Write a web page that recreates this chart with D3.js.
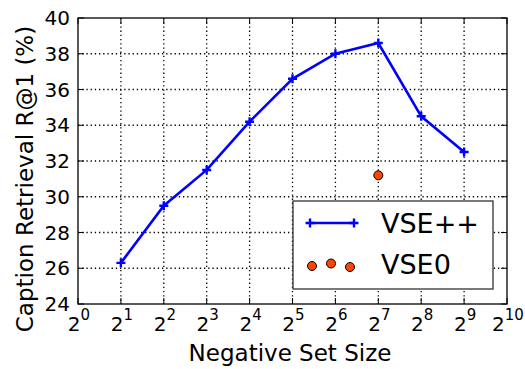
<!DOCTYPE html>
<html>
<head>
<meta charset="utf-8">
<script src="https://cdn.jsdelivr.net/npm/d3@7"></script>
<style>
  body { margin: 0; background: #fff; }
  text { font-family: "DejaVu Sans", sans-serif; fill: #000; }
</style>
</head>
<body>
<svg id="chart" width="525" height="369"></svg>
<script>
// data
var exponents = [1, 2, 3, 4, 5, 6, 7, 8, 9]
var vsePP = [26.3, 29.5, 31.5, 34.2, 36.6, 38.0, 38.6, 34.5, 32.5]
var vse0Exp = [7]
var vse0 = [31.2]
var xTickExp = [0, 1, 2, 3, 4, 5, 6, 7, 8, 9, 10]
var yTicks = [24, 26, 28, 30, 32, 34, 36, 38, 40]

var svg = d3.select("#chart")
var pL = 78, pR = 507, pT = 18, pB = 304

var x = d3.scaleLog().base(2).domain([1, 1024]).range([pL, pR])
var y = d3.scaleLinear().domain([24, 40]).range([pB, pT])

// grid
var grid = svg.append("g")
grid.selectAll(".gx").data(xTickExp.slice(1, -1)).enter().append("line")
  .attr("x1", d => x(Math.pow(2, d))).attr("x2", d => x(Math.pow(2, d)))
  .attr("y1", pT).attr("y2", pB)
grid.selectAll(".gy").data(yTicks.slice(1, -1)).enter().append("line")
  .attr("y1", d => y(d)).attr("y2", d => y(d))
  .attr("x1", pL).attr("x2", pR)
grid.selectAll("line").attr("stroke", "#000").attr("stroke-width", 1.3)
  .attr("stroke-dasharray", "1.3,2.9")

// ticks inside on all four sides
var tk = svg.append("g").attr("stroke", "#000").attr("stroke-width", 1)
xTickExp.forEach(function(e) {
  var px = x(Math.pow(2, e))
  tk.append("line").attr("x1", px).attr("x2", px).attr("y1", pB).attr("y2", pB - 6)
  tk.append("line").attr("x1", px).attr("x2", px).attr("y1", pT).attr("y2", pT + 6)
})
yTicks.forEach(function(v) {
  tk.append("line").attr("x1", pL).attr("x2", pL + 6).attr("y1", y(v)).attr("y2", y(v))
  tk.append("line").attr("x1", pR).attr("x2", pR - 6).attr("y1", y(v)).attr("y2", y(v))
})

// frame
svg.append("rect").attr("x", pL).attr("y", pT)
  .attr("width", pR - pL).attr("height", pB - pT)
  .attr("fill", "none").attr("stroke", "#000").attr("stroke-width", 1.3)

// tick labels
svg.selectAll(".yl").data(yTicks).enter().append("text")
  .attr("x", pL - 8).attr("y", d => y(d)).attr("dy", "0.36em")
  .attr("text-anchor", "end").attr("font-size", 20).text(d => d)

var xl = svg.selectAll(".xl").data(xTickExp).enter().append("text")
  .attr("x", d => x(Math.pow(2, d)) + 1).attr("y", 331)
  .attr("text-anchor", "middle").attr("font-size", 20)
xl.append("tspan").text("2")
xl.append("tspan").attr("dx", 0).attr("dy", -11).attr("font-size", 15).text(d => d)

// axis titles
svg.append("text").attr("x", 290).attr("y", 361)
  .attr("text-anchor", "middle").attr("font-size", 23).text("Negative Set Size")
svg.append("text").attr("transform", "translate(33,179) rotate(-90)")
  .attr("text-anchor", "middle").attr("font-size", 23).text("Caption Retrieval R@1 (%)")

// VSE++ line
var line = d3.line().x((d, i) => x(Math.pow(2, exponents[i]))).y(d => y(d))
svg.append("path").datum(vsePP).attr("d", line)
  .attr("fill", "none").attr("stroke", "#0000ff").attr("stroke-width", 2.6)

function plus(g, cx, cy) {
  g.append("path").attr("d", "M" + (cx - 4.5) + "," + cy + "H" + (cx + 4.5) + "M" + cx + "," + (cy - 4.5) + "V" + (cy + 4.5))
    .attr("stroke", "#0000ff").attr("stroke-width", 2.4).attr("fill", "none")
}
var mk = svg.append("g")
vsePP.forEach(function(v, i) { plus(mk, x(Math.pow(2, exponents[i])), y(v)) })

// VSE0 point
svg.selectAll(".v0").data(vse0).enter().append("circle")
  .attr("cx", (d, i) => x(Math.pow(2, vse0Exp[i]))).attr("cy", d => y(d)).attr("r", 4.5)
  .attr("fill", "#ff4500").attr("stroke", "#000").attr("stroke-width", 1)

// legend
var lg = svg.append("g")
lg.append("rect").attr("x", 293).attr("y", 201).attr("width", 200).attr("height", 88)
  .attr("fill", "#fff").attr("stroke", "#333").attr("stroke-width", 1.3)
lg.append("line").attr("x1", 310).attr("x2", 354).attr("y1", 223).attr("y2", 223)
  .attr("stroke", "#0000ff").attr("stroke-width", 2.6)
plus(lg, 310, 223)
plus(lg, 354, 223)
lg.append("text").attr("x", 381).attr("y", 233).attr("font-size", 27).text("VSE++")
;[[312, 266], [331, 263.5], [350, 267]].forEach(function(p) {
  lg.append("circle").attr("cx", p[0]).attr("cy", p[1]).attr("r", 4.5)
    .attr("fill", "#ff4500").attr("stroke", "#000").attr("stroke-width", 1)
})
lg.append("text").attr("x", 381).attr("y", 274).attr("font-size", 27).text("VSE0")
</script>
</body>
</html>
